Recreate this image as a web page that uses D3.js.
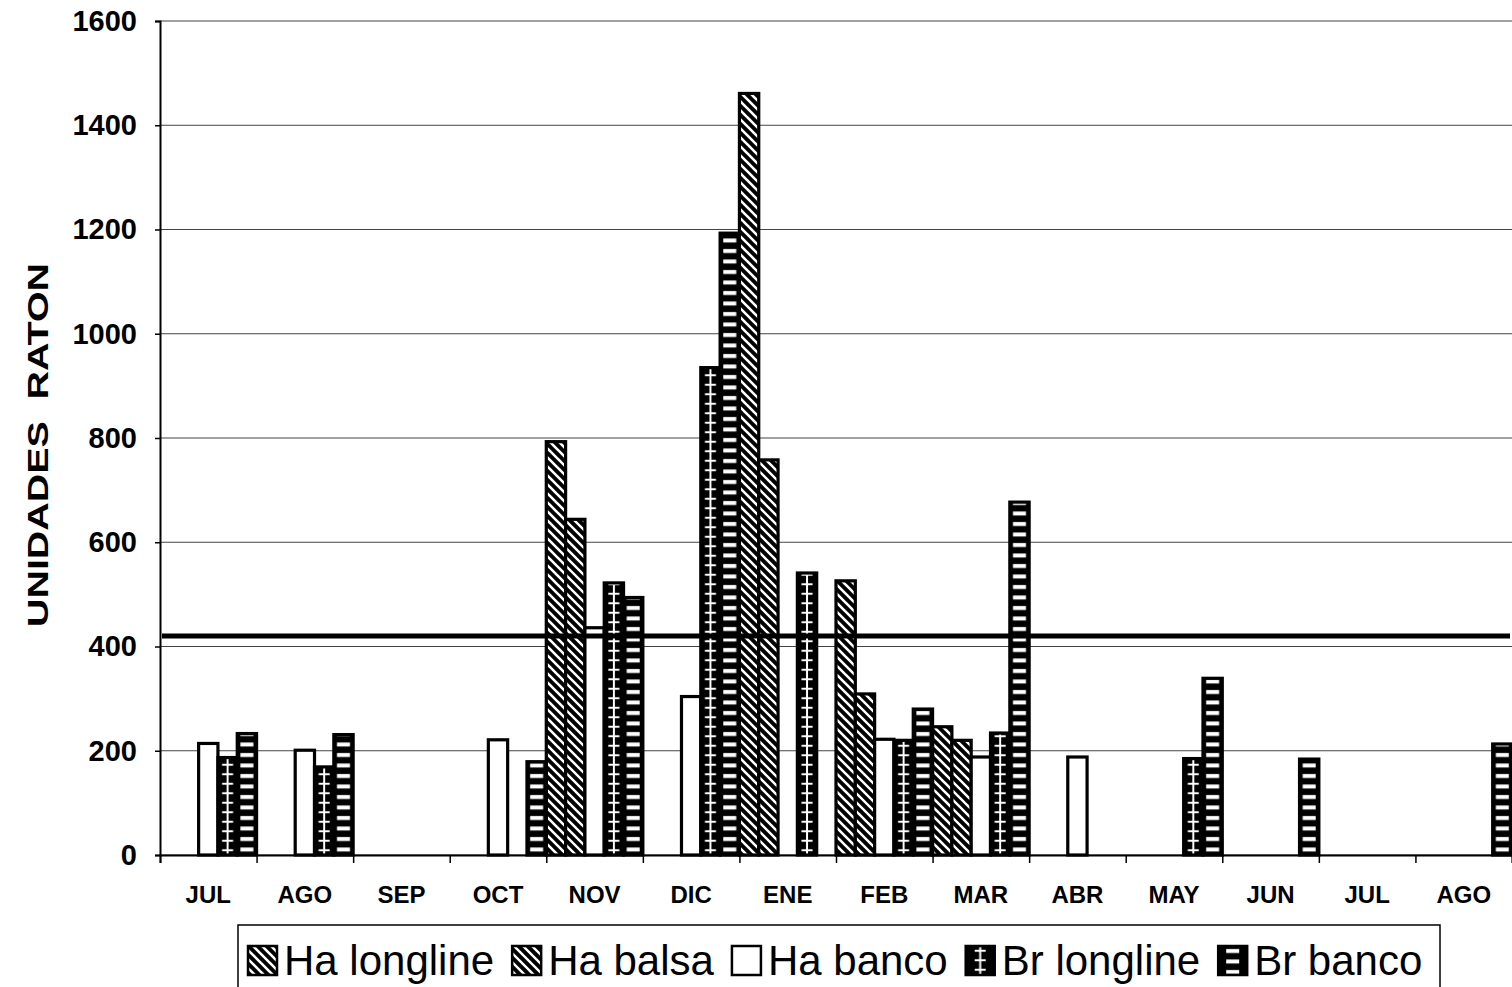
<!DOCTYPE html>
<html><head><meta charset="utf-8">
<script src="https://cdn.jsdelivr.net/npm/d3@7/dist/d3.min.js"></script>
<style>body{margin:0;background:#fff;} svg{display:block;font-family:"Liberation Sans",Arial,sans-serif;}</style>
</head><body><svg id="c" width="1512" height="987"></svg>
<script>
// ---- data ----
const months = ["JUL","AGO","SEP","OCT","NOV","DIC","ENE","FEB","MAR","ABR","MAY","JUN","JUL","AGO"];
const seriesNames = ["Ha longline","Ha balsa","Ha banco","Br longline","Br banco"];
const haLongline = [null,null,null,null,793,null,1461,526,246,null,null,null,null,null];
const haBalsa    = [null,null,null,null,644,null,758,309,220,null,null,null,null,null];
const haBanco    = [214,201,null,221,436,304,null,222,188,188,null,null,null,null];
const brLongline = [187,169,null,null,522,935,541,220,234,null,185,null,null,null];
const brBanco    = [233,231,null,179,494,1193,null,280,677,null,339,184,null,213];
const referenceLevel = [420,420,420,420,420,420,420,420,420,420,420,420,420,420];
const yTicks = [0,200,400,600,800,1000,1200,1400,1600];
const yTitle = "UNIDADES  RATON";

const seriesValues = [haLongline, haBalsa, haBanco, brLongline, brBanco];
const seriesStyle = ["diag","diag2","white","cross","brick"];

// ---- layout ----
const svg = d3.select("#c");
const L = 160, R = 1512, T = 21, B = 855;
const x = d3.scaleBand().domain(d3.range(months.length)).range([L, R]).padding(0);
const xs = d3.scaleBand().domain(seriesNames).range([0, x.bandwidth()]).padding(0);
const xi = d3.scaleLinear().domain([0, months.length]).range([L, R]);
const y = d3.scaleLinear().domain([0, 1600]).range([B, T]);

const defs = svg.append("defs");
function diagPattern(id, sw) {
  const p = defs.append("pattern").attr("id", id).attr("patternUnits", "userSpaceOnUse")
    .attr("width", 9).attr("height", 9);
  p.append("rect").attr("width", 9).attr("height", 9).attr("fill", "#000");
  p.append("path").attr("d", "M0,0 L9,9 M-2,7 L2,11 M7,-2 L11,2")
    .attr("stroke", "#fff").attr("stroke-width", sw);
}
diagPattern("diag", 2.6);
diagPattern("diag2", 2.4);

function tilePattern(id, type, x0, w, y0) {
  const h = type === "cross" ? 9.5 : 10.5;
  const p = defs.append("pattern").attr("id", id).attr("patternUnits", "userSpaceOnUse")
    .attr("x", x0).attr("y", y0).attr("width", w).attr("height", h);
  p.append("rect").attr("width", w).attr("height", h).attr("fill", "#000");
  if (type === "cross") {
    p.append("rect").attr("x", w / 2 - 1).attr("y", 0).attr("width", 2).attr("height", h).attr("fill", "#fff");
    p.append("rect").attr("x", w / 2 - 5.5).attr("y", h / 2 - 1).attr("width", 11).attr("height", 2).attr("fill", "#fff");
  } else {
    p.append("rect").attr("x", w / 2 - 6.5).attr("y", 3).attr("width", 13).attr("height", 4).attr("fill", "#fff");
  }
}
function fillFor(style, id, x0, w, y0) {
  if (style === "diag" || style === "diag2") return `url(#${style})`;
  if (style === "white") return "#fff";
  tilePattern(id, style, x0, w, y0);
  return `url(#${id})`;
}

// gridlines
svg.append("g").selectAll("line").data(yTicks).join("line")
  .attr("x1", L).attr("x2", R).attr("y1", d => y(d)).attr("y2", d => y(d))
  .attr("stroke", "#444").attr("stroke-width", 1.1);

// bars
const bars = [];
seriesValues.forEach((vals, s) => {
  vals.forEach((v, i) => { if (v != null) bars.push({ s, i, v }); });
});
const gb = svg.append("g");
bars.forEach((d, k) => {
  const bx = x(d.i) + xs(seriesNames[d.s]);
  const bw = xs.bandwidth();
  const fill = fillFor(seriesStyle[d.s], "p" + k, bx, bw, B);
  gb.append("rect").attr("x", bx).attr("y", y(d.v)).attr("width", bw).attr("height", B - y(d.v))
    .attr("fill", fill).attr("stroke", "#000").attr("stroke-width", 3.2);
});

// reference line
svg.append("line")
  .attr("x1", L + 2).attr("x2", R - 2)
  .attr("y1", y(referenceLevel[0])).attr("y2", y(referenceLevel[referenceLevel.length - 1]))
  .attr("stroke", "#000").attr("stroke-width", 5);

// y axis
const ya = svg.append("g").attr("transform", `translate(${L},0)`)
  .call(d3.axisLeft(y).tickValues(yTicks).tickSize(5).tickPadding(18).tickFormat(d3.format("d")));
ya.select(".domain").attr("stroke", "#000").attr("stroke-width", 2);
ya.selectAll(".tick line").attr("stroke", "#000").attr("stroke-width", 1.5);
ya.selectAll(".tick text").attr("font-size", 29).attr("font-weight", "bold")
  .attr("font-family", "Liberation Sans, Arial, sans-serif").attr("fill", "#000");

// x axis (ticks at category boundaries)
const xa = svg.append("g").attr("transform", `translate(0,${B})`)
  .call(d3.axisBottom(xi).tickValues(d3.range(months.length + 1)).tickSize(8).tickFormat(""));
xa.select(".domain").attr("stroke", "#000").attr("stroke-width", 2);
xa.selectAll(".tick line").attr("stroke", "#000").attr("stroke-width", 1.5);
const xl = svg.append("g").attr("transform", `translate(0,${B})`)
  .call(d3.axisBottom(x).tickSize(0).tickPadding(31).tickFormat(i => months[i]));
xl.select(".domain").remove();
xl.selectAll(".tick text").attr("font-size", 24).attr("font-weight", "bold")
  .attr("font-family", "Liberation Sans, Arial, sans-serif").attr("fill", "#000");

// y title
svg.append("text").attr("transform", "translate(48,445) rotate(-90)")
  .attr("text-anchor", "middle").attr("font-size", 29).attr("font-weight", "bold")
  .attr("textLength", 364).attr("lengthAdjust", "spacingAndGlyphs")
  .style("white-space", "pre").text(yTitle);

// legend
const lg = svg.append("g");
lg.append("rect").attr("x", 238).attr("y", 925).attr("width", 1202).attr("height", 90)
  .attr("fill", "#fff").attr("stroke", "#000").attr("stroke-width", 1.5);
let lx = 248;
const iconS = 29, baseY = 975;
seriesNames.forEach((name, s) => {
  const fill = fillFor(seriesStyle[s], "lg" + s, lx, iconS, baseY - iconS);
  lg.append("rect").attr("x", lx).attr("y", baseY - iconS).attr("width", iconS).attr("height", iconS)
    .attr("fill", fill).attr("stroke", "#000").attr("stroke-width", 2.5);
  const t = lg.append("text").attr("x", lx + iconS + 7).attr("y", baseY)
    .attr("font-size", 42).attr("fill", "#000").text(name);
  const w = t.node().getComputedTextLength();
  lx = lx + iconS + 7 + w + 18;
});
</script></body></html>
